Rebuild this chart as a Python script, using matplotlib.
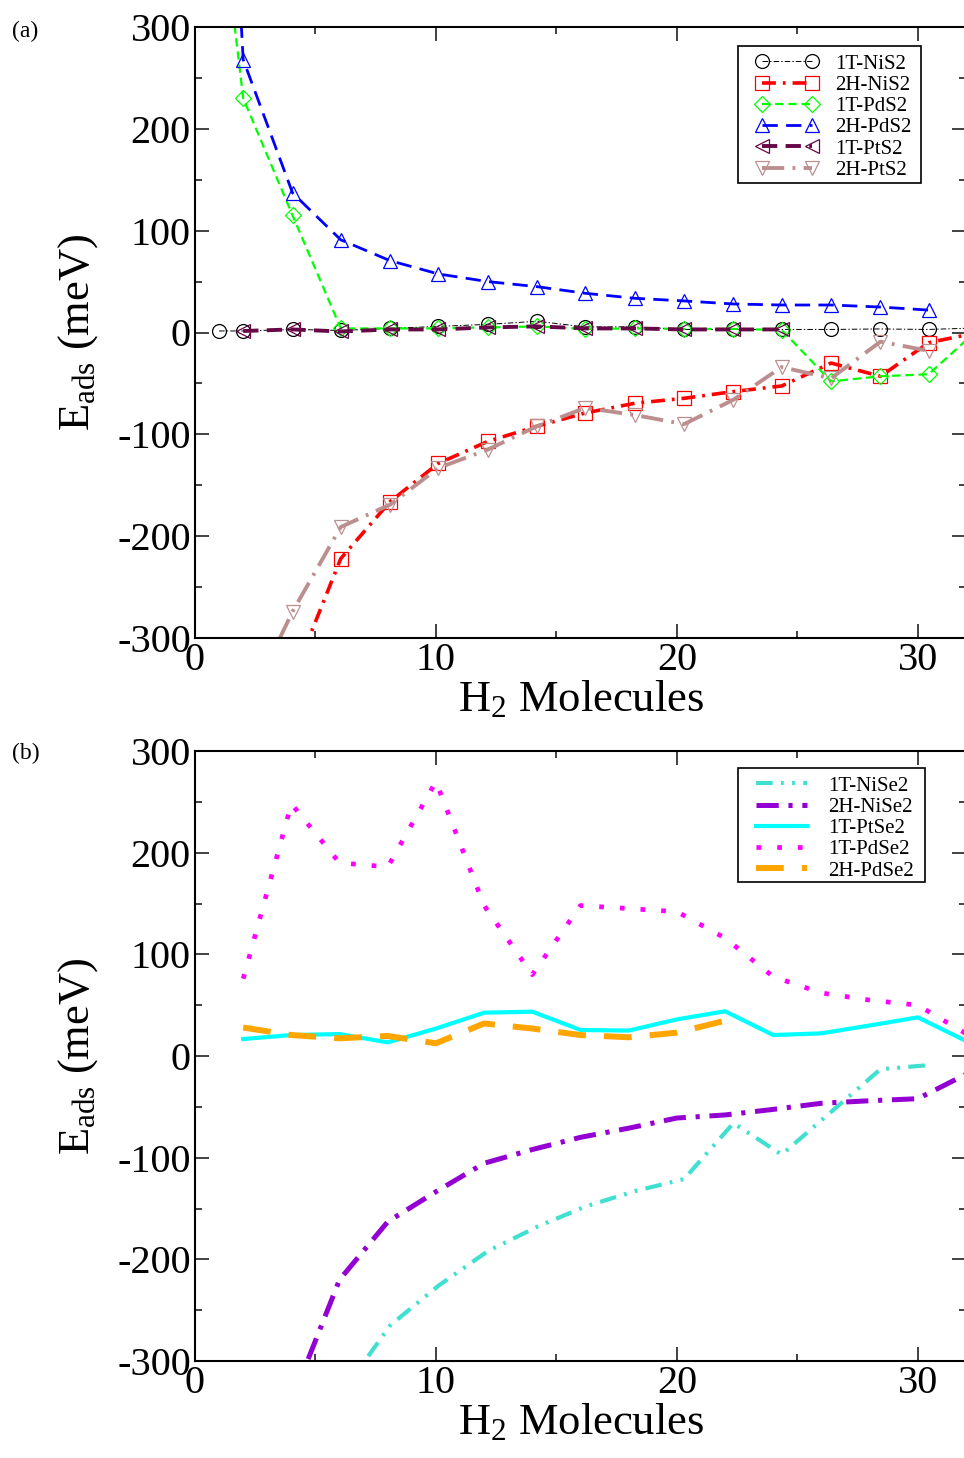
import matplotlib
matplotlib.use('Agg')
import matplotlib.pyplot as plt
from matplotlib.patches import Rectangle
from matplotlib.ticker import MultipleLocator

plt.rcParams.update({'font.family': 'Liberation Serif', 'lines.scale_dashes': False,
                     'axes.unicode_minus': False,
                     'mathtext.fontset': 'custom', 'mathtext.rm': 'Liberation Serif',
                     'mathtext.it': 'Liberation Serif'})

# panel (a) -- x positions of the sulfide points
XA = [2, 4.05, 6.05, 8.1, 10.1, 12.15, 14.2, 16.2, 18.25, 20.3, 22.35, 24.35, 26.4, 28.45, 30.45]

x_1t_nis2 = [1] + XA + [32.5]
y_1t_nis2 = [1.5, 1.5, 3, 2, 4, 6, 8, 11, 5.5, 5.5, 3, 3, 3, 3, 3.5, 3, 4.5]

x_2h_nis2 = XA[1:] + [32.5]
y_2h_nis2 = [-340, -222, -166, -128.5, -107, -92, -79, -69.5, -64.6, -58, -52.5, -30, -43, -10, 0]

x_1t_pds2 = [1] + XA + [32.5]
y_1t_pds2 = [430, 230, 115, 4, 4, 4, 5, 6, 3.5, 4, 3.5, 3.5, 2.5, -48, -43, -41, 3]

x_2h_pds2 = [1] + XA
y_2h_pds2 = [700, 268, 137, 91, 70.5, 57.5, 50, 45, 38.5, 33.6, 31, 28, 27, 27, 25, 22]

x_1t_pts2 = XA[:12]
y_1t_pts2 = [1.5, 3, 1, 3, 3, 5, 6, 4, 4, 3, 3, 3]

x_2h_pts2 = XA
y_2h_pts2 = [-375, -274, -191, -169, -133, -115, -92, -74, -81, -90, -66, -34, -45, -9, -18]

# panel (b) -- selenides
x_1t_pdse2 = [2, 4, 6, 8, 10, 12, 14, 16, 18, 20, 22, 24, 26, 28, 30, 32.5]
y_1t_pdse2 = [76, 248, 190, 186, 270, 148, 80, 148, 145, 142, 116, 78, 62, 55, 50, 15]

x_1t_ptse2 = [2, 4, 6, 8, 10, 12, 14, 16, 18, 20, 22, 24, 26, 28, 30, 32.5]
y_1t_ptse2 = [16.7, 20.6, 21.6, 13.4, 27, 42.6, 43.6, 25.6, 25, 36, 44, 20.6, 22.3, 30, 38, 9]

x_2h_pdse2 = [2, 4, 6, 8, 10, 12, 14, 16, 18, 20, 22]
y_2h_pdse2 = [28, 20.6, 17.4, 19.7, 12.5, 32, 27, 20.6, 18.4, 23, 34.7]

x_2h_nise2 = [4, 6, 8, 10, 12, 14, 16, 18, 20, 22, 24, 26, 28, 30, 32.5]
y_2h_nise2 = [-340, -220, -163, -133.5, -105.5, -92, -80, -71, -61, -58, -52.5, -46.5, -44, -42, -12]

x_1t_nise2 = [6.05, 8.1, 10.1, 12.15, 14.2, 16.2, 18.25, 20.3, 22.35, 24.35, 26.4, 28.45, 30.45]
y_1t_nise2 = [-333, -265, -226, -192, -168, -148, -133, -121, -66, -97, -55, -13, -9]

W, H = 964, 1458
fig = plt.figure(figsize=(W / 100, H / 100), dpi=100)
ax_a = fig.add_axes([195 / W, 1 - 638 / H, 771 / W, 611 / H])
ax_b = fig.add_axes([195 / W, 1 - 1361 / H, 771 / W, 610 / H])


def style_axes(ax):
    ax.set_xlim(0, 32)
    ax.set_ylim(-300, 300)
    ax.xaxis.set_major_locator(MultipleLocator(10))
    ax.xaxis.set_minor_locator(MultipleLocator(5))
    ax.yaxis.set_major_locator(MultipleLocator(100))
    ax.yaxis.set_minor_locator(MultipleLocator(50))
    ax.tick_params(which='both', direction='in', top=True, right=True, width=1.3,
                   color='#333333', labelsize=29, pad=3)
    ax.tick_params(which='major', length=10)
    ax.tick_params(which='minor', length=5)
    for sp in ax.spines.values():
        sp.set_linewidth(1.5)
    ax.set_xlabel('H$_2$ Molecules', fontsize=32, labelpad=0)
    ax.set_ylabel('E$_{ads}$ (meV)', fontsize=32, labelpad=12)


def legend_box(ax, left, top, right, bottom):
    # grace-style legend frame, in figure pixels
    r = Rectangle((left / W, 1 - bottom / H), (right - left) / W, (bottom - top) / H,
                  transform=fig.transFigure, facecolor='white', edgecolor='black',
                  lw=1.2, zorder=4, clip_on=False)
    ax.add_patch(r)


mk = dict(markersize=10, markerfacecolor='none', markeredgewidth=0.9)


def last_off(x):
    return list(range(len(x) - 1))


ax_a.plot(x_1t_nis2, y_1t_nis2, color='black', lw=0.7, ls=(0, (4, 1.5, 1, 1.5)),
          marker='o', markevery=last_off(x_1t_nis2), label='1T-NiS2', **mk)
ax_a.plot(x_2h_nis2, y_2h_nis2, color='red', lw=2.6, ls=(0, (10, 5, 2, 5)),
          marker='s', markevery=last_off(x_2h_nis2), label='2H-NiS2', **mk)
ax_a.plot(x_1t_pds2, y_1t_pds2, color='#00ff00', lw=1.6, ls=(0, (6, 3.5)),
          marker='D', markevery=last_off(x_1t_pds2), label='1T-PdS2',
          markersize=8, markerfacecolor='none', markeredgewidth=0.9)
ax_a.plot(x_2h_pds2, y_2h_pds2, color='blue', lw=2.0, ls=(0, (11, 6)),
          marker='^', label='2H-PdS2', **mk)
ax_a.plot(x_1t_pts2, y_1t_pts2, color='#670748', lw=2.8, ls=(0, (11, 6)),
          marker='<', label='1T-PtS2', **mk)
ax_a.plot(x_2h_pts2, y_2h_pts2, color='#bc8f8f', lw=2.8, ls=(0, (16, 6, 2, 6)),
          marker='v', label='2H-PtS2', **mk)

style_axes(ax_a)
legend_box(ax_a, 738, 46, 921, 183)
leg_a = ax_a.legend(loc='upper left', bbox_to_anchor=((756 - 195) / 771, 1 - (54 - 27) / 611),
                    borderaxespad=0, borderpad=0, fontsize=15, numpoints=2,
                    handlelength=2.98, handletextpad=0.82, labelspacing=0.08,
                    frameon=False)
leg_a.set_zorder(5)

ax_b.plot(x_1t_nise2, y_1t_nise2, color='#40e0d0', lw=3.0, ls=(0, (12, 6, 2, 6, 2, 6)),
          label='1T-NiSe2')
ax_b.plot(x_2h_nise2, y_2h_nise2, color='#9400d3', lw=3.6, ls=(0, (16, 7, 3, 7)),
          label='2H-NiSe2')
ax_b.plot(x_1t_ptse2, y_1t_ptse2, color='cyan', lw=3.0, ls='-', label='1T-PtSe2')
ax_b.plot(x_1t_pdse2, y_1t_pdse2, color='magenta', lw=3.4, ls=(0, (3.4, 11.5)),
          label='1T-PdSe2')
ax_b.plot(x_2h_pdse2, y_2h_pdse2, color='orange', lw=4.3, ls=(0, (20, 13)),
          label='2H-PdSe2')

style_axes(ax_b)
legend_box(ax_b, 738, 768, 925, 882)
leg_b = ax_b.legend(loc='upper left', bbox_to_anchor=((756 - 195) / 771, 1 - (776 - 751) / 610),
                    borderaxespad=0, borderpad=0, fontsize=15, handlelength=2.45,
                    handletextpad=1.0, labelspacing=0.08, frameon=False)
leg_b.set_zorder(5)

fig.text(12 / W, 1 - 31 / H, '(a)', fontsize=17, va='center')
fig.text(12 / W, 1 - 753 / H, '(b)', fontsize=17, va='center')

fig.savefig('out.png', dpi=100)
